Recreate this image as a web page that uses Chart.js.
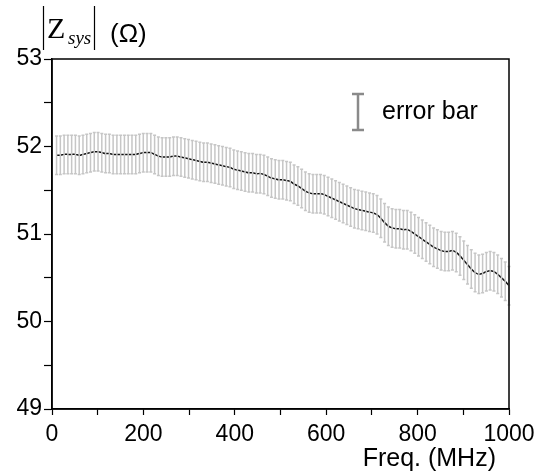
<!DOCTYPE html>
<html>
<head>
<meta charset="utf-8">
<script src="https://cdn.jsdelivr.net/npm/chart.js@4"></script>
<style>
  body { margin: 0; background: #fff; }
  #wrap { width: 547px; height: 471px; }
</style>
</head>
<body>
<div id="wrap"><canvas id="zChart" width="547" height="471"></canvas></div>
<script>
// frequency points (MHz)
const freq = [
  10, 18.25, 26.5, 34.75, 43, 51.25, 59.5, 67.75, 76, 84.25,
  92.5, 100.75, 109, 117.25, 125.5, 133.75, 142, 150.25, 158.5, 166.75,
  175, 183.25, 191.5, 199.75, 208, 216.25, 224.5, 232.75, 241, 249.25,
  257.5, 265.75, 274, 282.25, 290.5, 298.75, 307, 315.25, 323.5, 331.75,
  340, 348.25, 356.5, 364.75, 373, 381.25, 389.5, 397.75, 406, 414.25,
  422.5, 430.75, 439, 447.25, 455.5, 463.75, 472, 480.25, 488.5, 496.75,
  505, 513.25, 521.5, 529.75, 538, 546.25, 554.5, 562.75, 571, 579.25,
  587.5, 595.75, 604, 612.25, 620.5, 628.75, 637, 645.25, 653.5, 661.75,
  670, 678.25, 686.5, 694.75, 703, 711.25, 719.5, 727.75, 736, 744.25,
  752.5, 760.75, 769, 777.25, 785.5, 793.75, 802, 810.25, 818.5, 826.75,
  835, 843.25, 851.5, 859.75, 868, 876.25, 884.5, 892.75, 901, 909.25,
  917.5, 925.75, 934, 942.25, 950.5, 958.75, 967, 975.25, 983.5, 991.75,
  1000
];

// |Zsys| mean values (ohm)
const zsys = [
  51.90, 51.90, 51.91, 51.91, 51.91, 51.91, 51.90, 51.91, 51.92, 51.93,
  51.94, 51.94, 51.93, 51.92, 51.92, 51.91, 51.91, 51.91, 51.91, 51.91,
  51.91, 51.91, 51.92, 51.93, 51.93, 51.93, 51.91, 51.89, 51.88, 51.88,
  51.88, 51.89, 51.89, 51.88, 51.87, 51.86, 51.85, 51.84, 51.83, 51.82,
  51.82, 51.81, 51.80, 51.79, 51.78, 51.77, 51.76, 51.74, 51.73, 51.72,
  51.71, 51.70, 51.70, 51.69, 51.69, 51.68, 51.66, 51.64, 51.63, 51.62,
  51.62, 51.61, 51.60, 51.57, 51.55, 51.52, 51.49, 51.47, 51.46, 51.46,
  51.46, 51.45, 51.43, 51.41, 51.39, 51.37, 51.35, 51.33, 51.31, 51.29,
  51.28, 51.27, 51.26, 51.25, 51.24, 51.22, 51.18, 51.13, 51.09, 51.07,
  51.06, 51.06, 51.05, 51.05, 51.03, 51.00, 50.97, 50.94, 50.91, 50.88,
  50.85, 50.83, 50.81, 50.80, 50.80, 50.81, 50.79, 50.75, 50.70, 50.65,
  50.60, 50.56, 50.54, 50.55, 50.57, 50.58, 50.57, 50.54, 50.50, 50.46,
  50.41
];

// half height of the error bars (ohm)
const errHalf = 0.22;

const xTicksMajor = [0, 200, 400, 600, 800, 1000];
const yTicksMajor = [49, 50, 51, 52, 53];

const points = freq.map((f, i) => ({ x: f, y: zsys[i] }));

const errorBars = {
  id: 'errorBars',
  afterDatasetsDraw(chart) {
    const { ctx, scales: { x, y } } = chart;
    ctx.save();
    ctx.strokeStyle = '#c6c6c6';
    ctx.lineWidth = 1.5;
    freq.forEach((f, i) => {
      const px = x.getPixelForValue(f);
      const top = y.getPixelForValue(zsys[i] + errHalf);
      const bot = y.getPixelForValue(zsys[i] - errHalf);
      ctx.beginPath();
      ctx.moveTo(px, top); ctx.lineTo(px, bot);
      ctx.moveTo(px - 1.5, top); ctx.lineTo(px + 1.5, top);
      ctx.moveTo(px - 1.5, bot); ctx.lineTo(px + 1.5, bot);
      ctx.stroke();
    });
    ctx.restore();
  }
};

const decorations = {
  id: 'decorations',
  afterDraw(chart) {
    const { ctx, chartArea: a } = chart;
    ctx.save();
    // frame
    ctx.strokeStyle = '#000';
    ctx.lineWidth = 1.5;
    ctx.strokeRect(a.left, a.top, a.right - a.left, a.bottom - a.top);

    // legend: error bar symbol
    ctx.strokeStyle = '#8a8a8a';
    ctx.lineWidth = 2.5;
    ctx.beginPath();
    ctx.moveTo(358, 94); ctx.lineTo(358, 130);
    ctx.moveTo(352, 94); ctx.lineTo(364, 94);
    ctx.moveTo(352, 130); ctx.lineTo(364, 130);
    ctx.stroke();
    ctx.fillStyle = '#000';
    ctx.font = '25px "Liberation Sans", Arial, sans-serif';
    ctx.textBaseline = 'alphabetic';
    ctx.fillText('error bar', 382, 119);

    // y title |Zsys| (Ω)
    ctx.lineWidth = 1.2;
    ctx.strokeStyle = '#000';
    ctx.beginPath();
    ctx.moveTo(43.5, 6); ctx.lineTo(43.5, 50);
    ctx.moveTo(94.5, 6); ctx.lineTo(94.5, 50);
    ctx.stroke();
    ctx.font = '30px "Liberation Serif", "Times New Roman", serif';
    ctx.fillText('Z', 47, 38);
    ctx.font = 'italic 19px "Liberation Serif", "Times New Roman", serif';
    ctx.fillText('sys', 68, 44);
    ctx.font = '26px "Liberation Sans", Arial, sans-serif';
    ctx.fillText('(\u03A9)', 110, 42);

    // x title
    ctx.font = '25px "Liberation Sans", Arial, sans-serif';
    ctx.textAlign = 'right';
    ctx.fillText('Freq. (MHz)', 496, 466);
    ctx.restore();
  }
};

new Chart(document.getElementById('zChart').getContext('2d'), {
  type: 'line',
  data: {
    datasets: [{
      label: '|Zsys|',
      data: points,
      borderColor: '#111',
      borderWidth: 1.5,
      pointRadius: 0,
      tension: 0.3
    }]
  },
  options: {
    responsive: false,
    animation: false,
    layout: { padding: { left: 0, right: 38, top: 59, bottom: 0 } },
    plugins: { legend: { display: false }, tooltip: { enabled: false } },
    scales: {
      x: {
        type: 'linear',
        min: 0,
        max: 1000,
        afterFit: s => { s.height = 62; },
        ticks: {
          stepSize: 100,
          autoSkip: false,
          maxRotation: 0,
          padding: 6,
          color: '#000',
          font: { family: '"Liberation Sans", Arial, sans-serif', size: 23 },
          callback: v => xTicksMajor.includes(v) ? String(v) : ''
        },
        grid: { drawOnChartArea: false, tickLength: 6, tickWidth: 1.2, tickColor: '#000' },
        border: { color: '#000', width: 1.5 }
      },
      y: {
        type: 'linear',
        min: 49,
        max: 53,
        afterFit: s => { s.width = 52; },
        ticks: {
          stepSize: 0.5,
          autoSkip: false,
          padding: 2,
          color: '#000',
          font: { family: '"Liberation Sans", Arial, sans-serif', size: 23 },
          callback: v => yTicksMajor.includes(v) ? String(v) : ''
        },
        grid: { drawOnChartArea: false, tickLength: 8, tickWidth: 1.2, tickColor: '#000' },
        border: { color: '#000', width: 1.5 }
      }
    }
  },
  plugins: [errorBars, decorations]
});
</script>
</body>
</html>
